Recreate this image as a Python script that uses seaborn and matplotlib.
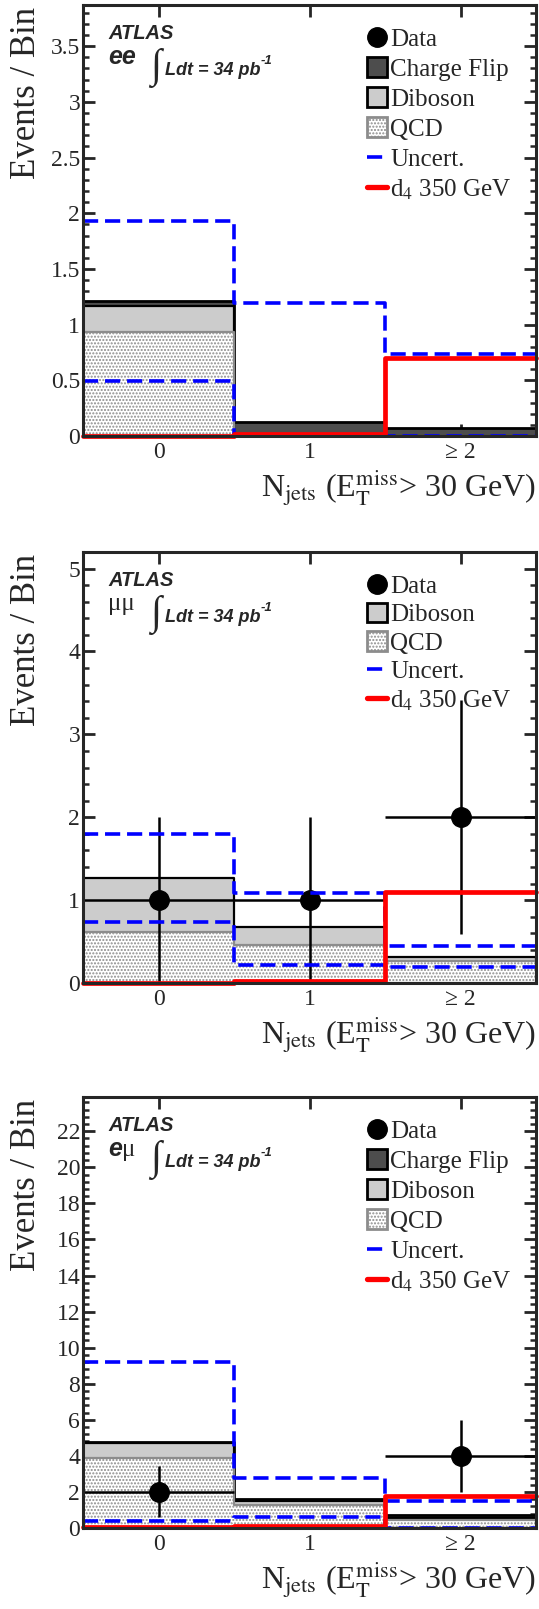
import numpy as np
import matplotlib
matplotlib.use('Agg')
import matplotlib.pyplot as plt
import seaborn as sns
from matplotlib.lines import Line2D
from matplotlib.patches import Patch
from matplotlib.ticker import MultipleLocator, FormatStrFormatter

# ---------------- data ----------------
bin_labels = ['0', '1', '\u2265 2']
bin_centers = [0, 1, 2]
bin_edges = [-0.5, 0.5, 1.5, 2.5]

# ee channel
ee_data = [0, 0, 0]
ee_charge_flip = [0.04, 0.13, 0.07]
ee_diboson = [0.24, 0.0, 0.0]
ee_qcd = [0.93, 0.0, 0.0]
ee_unc_up = [1.93, 1.19, 0.74]
ee_unc_down = [0.49, 0.0, 0.0]
ee_signal = [0.0, 0.02, 0.70]

# mumu channel
mm_data = [1, 1, 2]
mm_diboson = [0.65, 0.21, 0.05]
mm_qcd = [0.62, 0.46, 0.26]
mm_unc_up = [1.80, 1.09, 0.45]
mm_unc_down = [0.74, 0.22, 0.19]
mm_signal = [0.0, 0.03, 1.10]

# emu channel
em_data = [2, 0, 4]
em_charge_flip = [0.05, 0.14, 0.21]
em_diboson = [0.80, 0.20, 0.08]
em_qcd = [3.90, 1.28, 0.45]
em_unc_up = [9.19, 2.75, 1.49]
em_unc_down = [0.41, 0.60, 0.0]
em_signal = [0.05, 0.13, 1.77]

# ---------------- style ----------------
sns.set_style('ticks')
plt.rcParams['font.family'] = ['Liberation Serif', 'DejaVu Serif']
plt.rcParams['mathtext.fontset'] = 'stix'
plt.rcParams['hatch.linewidth'] = 1.0

CF_COL = '#4d4d4d'
DIB_COL = '#cccccc'
QCD_EDGE = '#8c8c8c'
UNC_LW = 2.6
UNC_DASH = (4.2, 1.9)

fig = plt.figure(figsize=(5.39, 16.09), dpi=100)
W, H = 539.0, 1609.0
ax_left = 83 / W
ax_w = 453 / W
ax_h = 431 / H
bottoms = [1 - 436 / H, 1 - 983 / H, 1 - 1528 / H]


def step_fill(ax, weights, face, edge, lw, z, hatch=None):
    sns.histplot(x=bin_centers, weights=weights, bins=bin_edges, element='step',
                 fill=True, facecolor=face, edgecolor=edge, linewidth=lw,
                 alpha=1, ax=ax, zorder=z)
    coll = ax.collections[-1]
    coll.set_zorder(z)
    if hatch:
        coll.set_hatch(hatch)


def step_line(ax, weights, color, lw, z, dashes=None):
    kws = dict(color=color, linewidth=lw)
    if dashes is not None:
        kws['linestyle'] = '--'
    sns.histplot(x=bin_centers, weights=weights, bins=bin_edges, element='step',
                 fill=False, ax=ax, **kws)
    ln = ax.lines[-1]
    ln.set_zorder(z)
    ln.set_clip_on(False)
    if dashes is not None:
        ln.set_dashes(dashes)


def panel(ax, chan, data, cf, dib, qcd, up, down, sig, ymax, major, minor,
          lab_spacing):
    qcd = np.asarray(qcd, float)
    dib = np.asarray(dib, float)
    lvl2 = qcd + dib
    if cf is not None:
        lvl3 = lvl2 + np.asarray(cf, float)
        step_fill(ax, lvl3, CF_COL, 'black', 2.0, 1.0)
    step_fill(ax, lvl2, DIB_COL, 'black', 1.6, 1.1)
    step_fill(ax, qcd, 'white', QCD_EDGE, 1.6, 1.2, hatch='.....')

    d = np.asarray(data, float)
    m = d > 0
    x = np.asarray(bin_centers, float)[m]
    ax.errorbar(x, d[m], yerr=np.sqrt(d[m]), xerr=0.5, fmt='o', color='black',
                ms=14, elinewidth=1.8, capsize=0, zorder=2.5)

    step_line(ax, up, 'blue', UNC_LW, 3.0, dashes=UNC_DASH)
    step_line(ax, down, 'blue', UNC_LW, 3.0, dashes=UNC_DASH)
    step_line(ax, sig, 'red', 3.4, 3.5)

    ax.set_xlim(-0.5, 2.5)
    ax.set_ylim(0, ymax)
    ax.set_xlabel('')
    ax.set_ylabel('')
    ax.set_xticks(bin_centers)
    ax.set_xticklabels(bin_labels)
    ax.yaxis.set_major_locator(MultipleLocator(major))
    ax.yaxis.set_minor_locator(MultipleLocator(minor))
    ax.yaxis.set_major_formatter(FormatStrFormatter('%g'))
    ax.tick_params(axis='both', which='major', direction='in', length=8.6,
                   width=2.0, labelsize=17, pad=3)
    ax.tick_params(axis='y', which='major', left=True, right=True, pad=2)
    ax.tick_params(axis='x', which='major', top=True, bottom=True, pad=4)
    ax.tick_params(axis='y', which='minor', direction='in', length=4.3,
                   width=1.8, left=True, right=True)
    ax.tick_params(axis='x', which='minor', bottom=False, top=False)
    for sp in ax.spines.values():
        sp.set_linewidth(2.2)
        sp.set_visible(True)
        sp.set_zorder(10)

    ax.text(-0.1258, 0.995, 'Events / Bin', rotation=90, ha='center', va='top',
            fontsize=25, transform=ax.transAxes)
    ax.text(1.0, -0.14, r'N$_{\rm jets}$ (E$_{\rm T}^{\rm miss}$> 30 GeV)',
            transform=ax.transAxes, ha='right', va='baseline', fontsize=23)

    # ATLAS label
    ax.text(0.055, 0.935, 'ATLAS', transform=ax.transAxes, ha='left',
            va='center', fontsize=14.5, family='Liberation Sans',
            weight='bold', style='italic')
    if chan == 'ee':
        ax.text(0.055, 0.879, 'ee', transform=ax.transAxes, ha='left',
                va='center', fontsize=18, family='Liberation Sans',
                weight='bold', style='italic')
    elif chan == 'mm':
        ax.text(0.055, 0.879, '\u03bc\u03bc', transform=ax.transAxes,
                ha='left', va='center', fontsize=18,
                family='Liberation Serif')
    else:
        t = ax.text(0.055, 0.879, 'e', transform=ax.transAxes, ha='left',
                    va='center', fontsize=18, family='Liberation Sans',
                    weight='bold', style='italic')
        ax.annotate('\u03bc', xy=(1, 0), xycoords=t, ha='left', va='bottom',
                    fontsize=18, family='Liberation Serif')
    ax.text(0.161, 0.853, '\u222b', transform=ax.transAxes, ha='center',
            va='center', fontsize=29, family=['Liberation Serif', 'DejaVu Serif'])
    lt = ax.text(0.181, 0.849, 'Ldt = 34 pb', transform=ax.transAxes,
                 ha='left', va='center', fontsize=13, family='Liberation Sans',
                 weight='bold', style='italic')
    ax.annotate('-1', xy=(1.0, 1.05), xycoords=lt, ha='left', va='center',
                fontsize=9.5, family='Liberation Sans', weight='bold',
                style='italic')

    # legend
    handles = [Line2D([], [], marker='o', color='black', ls='none', ms=14)]
    labels = ['Data']
    if cf is not None:
        handles.append(Patch(facecolor=CF_COL, edgecolor='black', lw=2))
        labels.append('Charge Flip')
    handles.append(Patch(facecolor=DIB_COL, edgecolor='black', lw=2))
    labels.append('Diboson')
    handles.append(Patch(facecolor='white', edgecolor=QCD_EDGE, lw=2,
                         hatch='.....'))
    labels.append('QCD')
    handles.append(Line2D([], [], color='blue', lw=UNC_LW, ls='--',
                          dashes=UNC_DASH))
    labels.append('Uncert.')
    handles.append(Line2D([], [], color='red', lw=3.8))
    labels.append(r'd$_{4}$ 350 GeV')
    ax.legend(handles, labels, loc='upper left', bbox_to_anchor=(0.628, 0.948),
              frameon=False, fontsize=18, handlelength=0.8, handleheight=0.8,
              handletextpad=0.12, borderpad=0, borderaxespad=0,
              labelspacing=lab_spacing)


ax1 = fig.add_axes([ax_left, bottoms[0], ax_w, ax_h])
panel(ax1, 'ee', ee_data, ee_charge_flip, ee_diboson, ee_qcd, ee_unc_up,
      ee_unc_down, ee_signal, 3.87, 0.5, 0.1, 0.27)
ax2 = fig.add_axes([ax_left, bottoms[1], ax_w, ax_h])
panel(ax2, 'mm', mm_data, None, mm_diboson, mm_qcd, mm_unc_up, mm_unc_down,
      mm_signal, 5.2, 1, 0.2, 0.21)
ax3 = fig.add_axes([ax_left, bottoms[2], ax_w, ax_h])
panel(ax3, 'em', em_data, em_charge_flip, em_diboson, em_qcd, em_unc_up,
      em_unc_down, em_signal, 23.9, 2, 0.4, 0.27)

fig.savefig('out.png', dpi=100)
